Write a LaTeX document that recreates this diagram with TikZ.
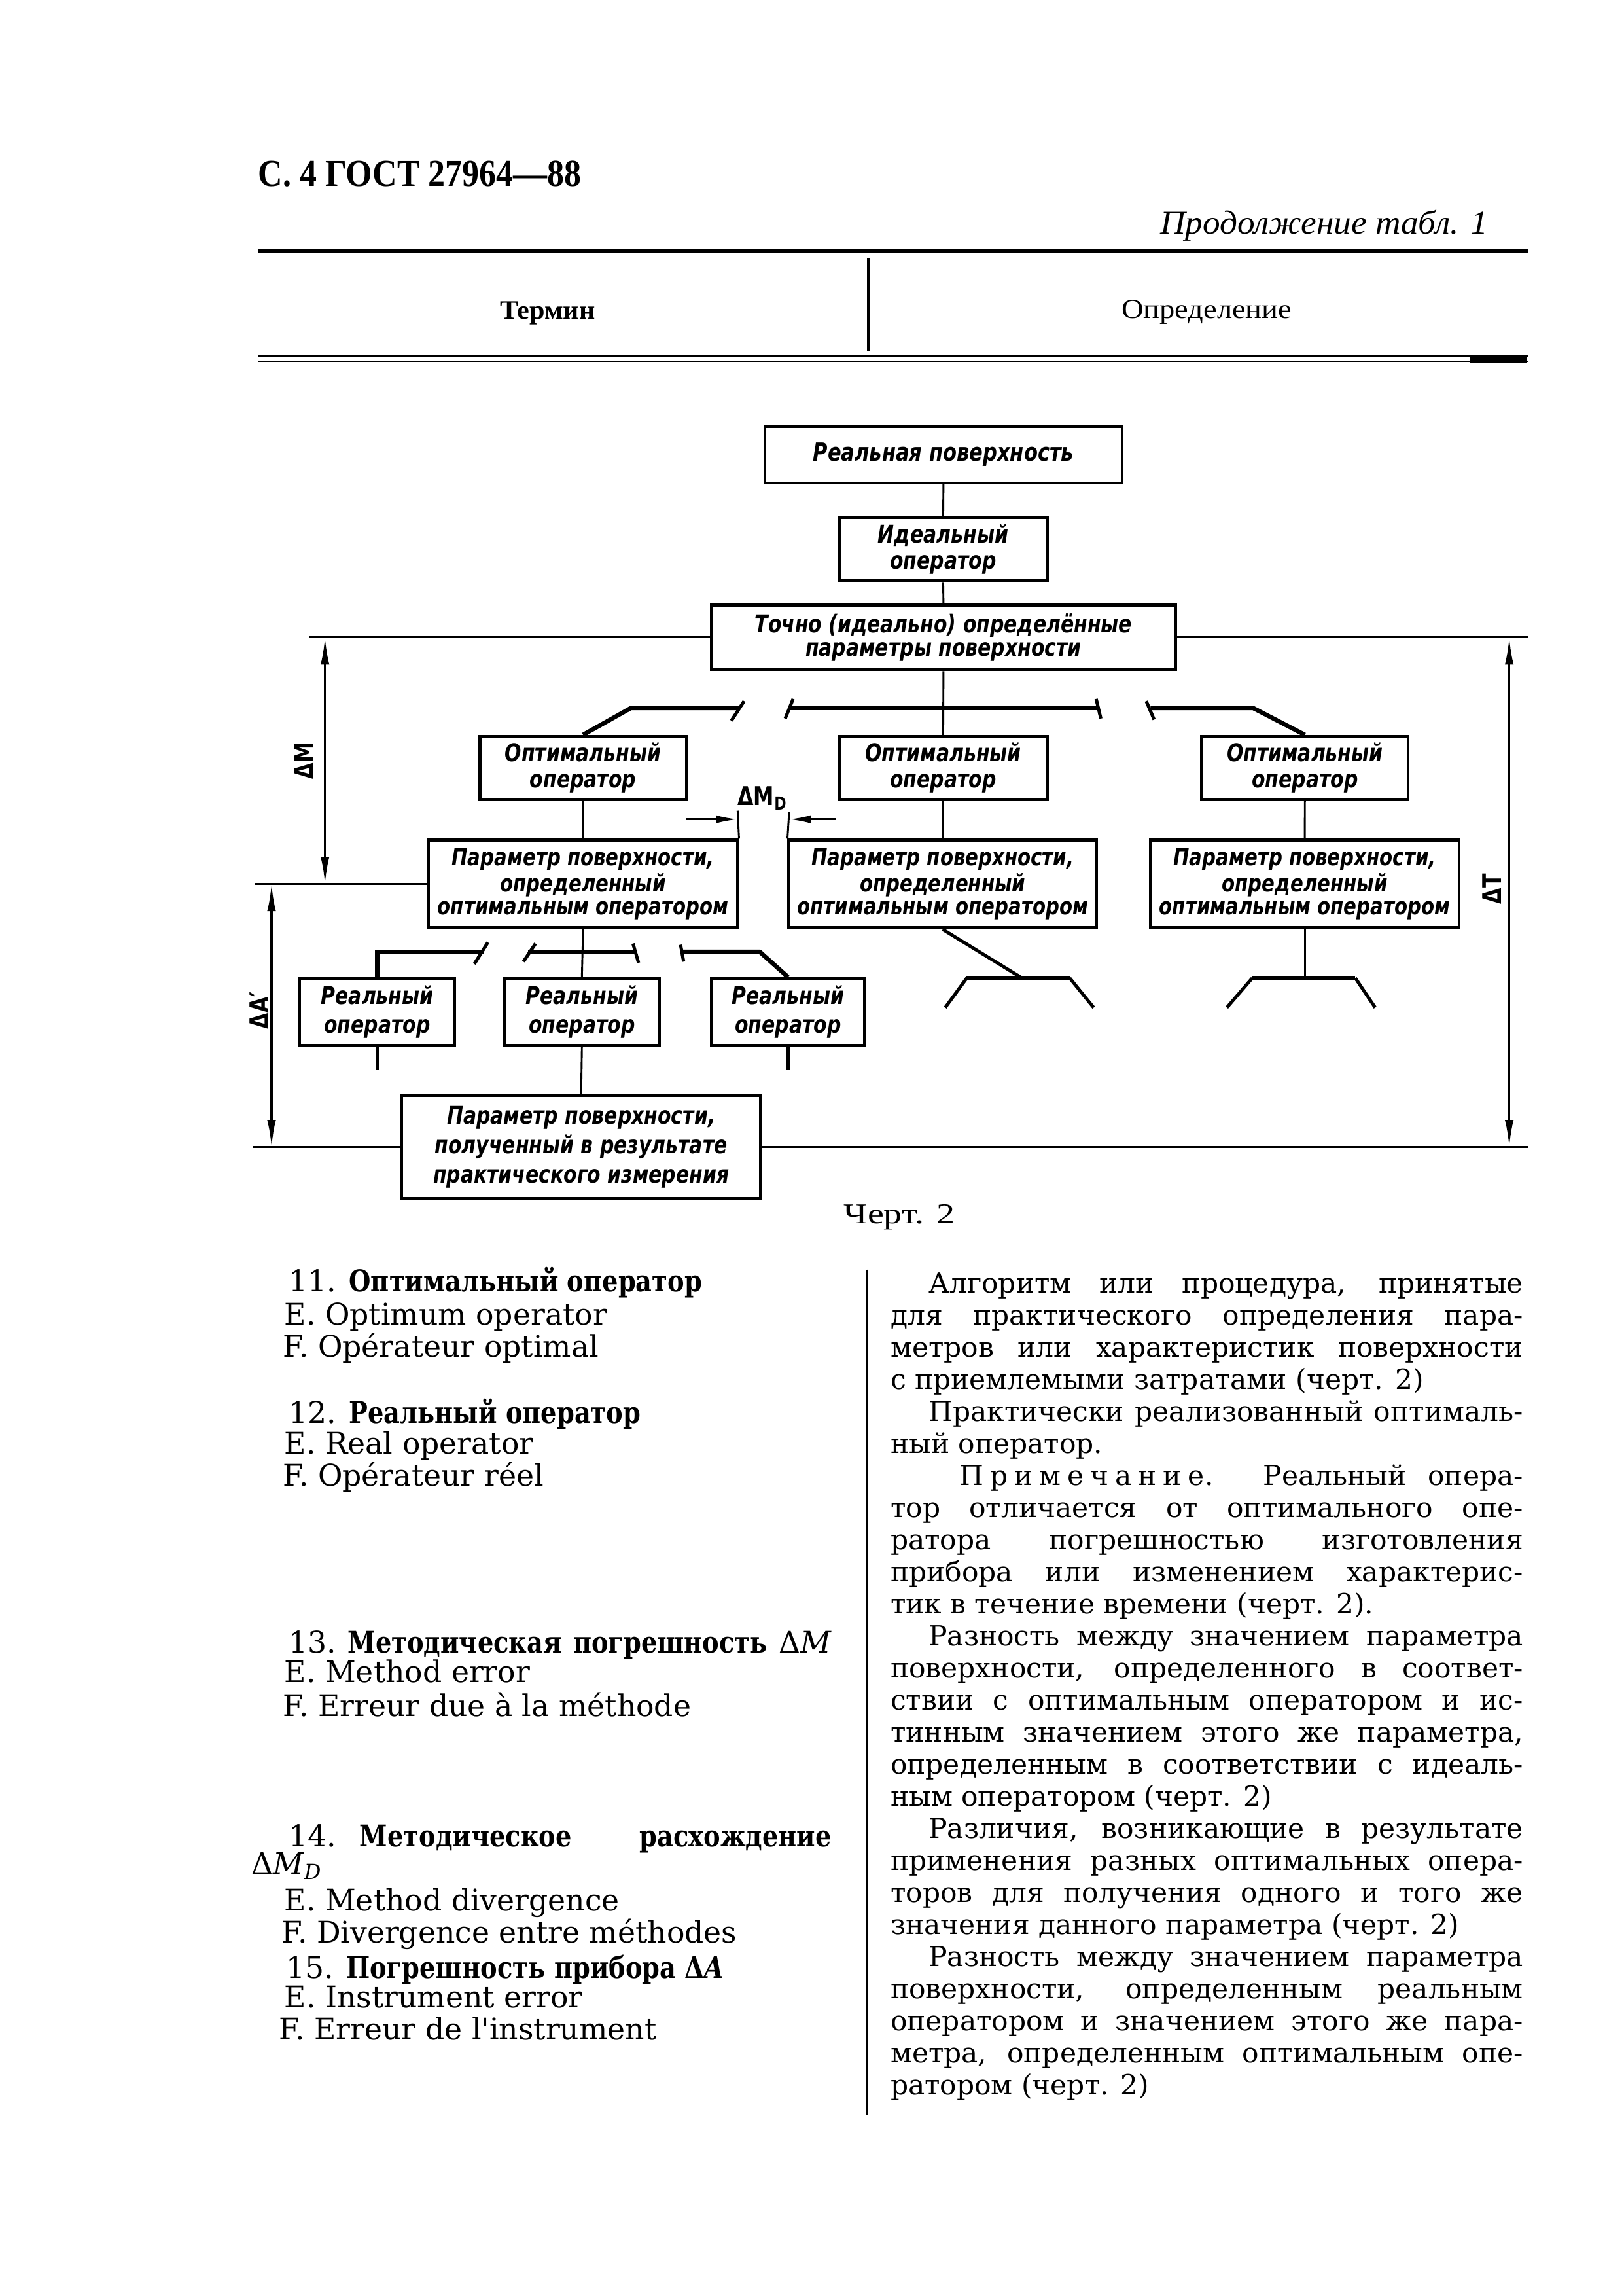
\documentclass[tikz,border=0pt]{standalone}
\usepackage{fontspec}
\usepackage{graphicx}
\usetikzlibrary{arrows.meta}
\setmainfont{Liberation Serif}
\newfontfamily\bodyf{DejaVu Serif}
\newfontfamily\termf[FakeStretch=0.84]{DejaVu Serif}
\newfontfamily\draftf[FakeStretch=0.8]{DejaVu Sans}
\newcommand\dft[2]{\draftf\bfseries\itshape\fontsize{#1}{#2}\selectfont}
\newcommand\rfont{\bodyf\fontsize{10.2}{12}\selectfont}
\newcommand\lfont{\bodyf\fontsize{11}{12}\selectfont}
\newcommand\tb[1]{{\termf\bfseries #1}}
\newcommand\lsp{\kern2.4pt}
\newcommand\rowI[3]{\node[txt,font=\rfont] (#1) at (634,#2) {\makebox[218.8pt][s]{#3}};}
\newcommand\rowJ[3]{\node[txt,font=\rfont] (#1) at (608,#2) {\makebox[232.8pt][s]{#3}};}
\newcommand\rowP[3]{\node[txt,font=\rfont] (#1) at (608,#2) {#3};}
\newcommand\rowN[3]{\node[txt,font=\rfont] (#1) at (655,#2) {\makebox[207.5pt][s]{#3}};}
\newcommand\lrow[4]{\node[txt,font=\lfont] (#1) at (#2,#3) {#4};}
\begin{document}
\begin{tikzpicture}[x=0.018936cm,y=-0.018936cm,
 dbox/.style={draw,line width=1.1pt,inner sep=0pt,align=center},
 conn/.style={line width=0.7pt},
 sw/.style={line width=1.6pt},
 tick/.style={line width=1.2pt},
 dim/.style={line width=0.8pt,<->,>={Latex[length=10pt,width=3.2pt]}},
 darr/.style={line width=0.8pt,->,>={Latex[length=8pt,width=3pt]}},
 lbl/.style={inner sep=0pt,font=\draftf\bfseries\fontsize{9.5}{9.5}\selectfont},
 txt/.style={anchor=base west,inner sep=0pt}]
\path[use as bounding box, fill=white] (0,0) rectangle (1109,1568);

% ---------- page header ----------
\node[anchor=base west,inner sep=0pt] (hdr) at (176,127.3) {\resizebox{119pt}{9.3pt}{\bfseries С. 4 ГОСТ 27964—88}};
\node[anchor=base east,inner sep=0pt] (cont) at (1017,160) {\resizebox{120.7pt}{8.8pt}{\itshape Продолжение табл. 1}};
\draw[line width=1.45pt] (176,171.8) -- (1044,171.8);
\draw[line width=0.8pt] (593.2,176.3) -- (593.2,240);
\node[anchor=base,inner sep=0pt] (term) at (374,217.8) {\resizebox{35pt}{6.4pt}{\bfseries Термин}};
\node[anchor=base,inner sep=0pt] (defn) at (824.3,217.6) {\resizebox{62.7pt}{6.7pt}{Определение}};
\draw[line width=0.65pt] (176,243) -- (1044,243);
\draw[line width=0.65pt] (176,246.7) -- (1044,246.7);
\fill (1004,242.2) rectangle (1043,247.6);

% ---------- diagram boxes ----------
\node[dbox,minimum width=131.5pt,minimum height=20.8pt,font=\dft{9.2}{9.5}] (B1) at (644.5,310.5) {Реальная поверхность};
\node[dbox,minimum width=76.5pt,minimum height=23.2pt,font=\dft{9}{9.6}] (B2) at (644.3,375) {Идеальный\\оператор};
\node[dbox,minimum width=170.8pt,minimum height=23.7pt,font=\dft{9}{8.8}] (B3) at (644.5,435.3) {Точно (идеально) определённые\\параметры поверхности};

\node[dbox,minimum width=76pt,minimum height=23.2pt,font=\dft{9}{9.5}] (OL) at (398.3,524.4) {Оптимальный\\оператор};
\node[dbox,minimum width=76.5pt,minimum height=23.2pt,font=\dft{9}{9.5}] (OM) at (644.3,524.4) {Оптимальный\\оператор};
\node[dbox,minimum width=76pt,minimum height=23.2pt,font=\dft{9}{9.5}] (OR) at (891.4,524.4) {Оптимальный\\оператор};

\node[dbox,minimum width=113.7pt,minimum height=32.3pt,font=\dft{8.8}{8.4}] (PL) at (398.3,603.7) {Параметр поверхности,\\определенный\\оптимальным оператором};
\node[dbox,minimum width=113.2pt,minimum height=32.3pt,font=\dft{8.8}{8.4}] (PM) at (644,603.7) {Параметр поверхности,\\определенный\\оптимальным оператором};
\node[dbox,minimum width=113.7pt,minimum height=32.3pt,font=\dft{8.8}{8.4}] (PR) at (891.3,603.7) {Параметр поверхности,\\определенный\\оптимальным оператором};

\node[dbox,minimum width=57.1pt,minimum height=24.5pt,font=\dft{9}{10.7}] (RL) at (257.7,691) {Реальный\\оператор};
\node[dbox,minimum width=56.9pt,minimum height=24.5pt,font=\dft{9}{10.7}] (RM) at (397.5,691) {Реальный\\оператор};
\node[dbox,minimum width=56.4pt,minimum height=24.5pt,font=\dft{9}{10.7}] (RR) at (538.3,691) {Реальный\\оператор};

\node[dbox,minimum width=132pt,minimum height=37.9pt,font=\dft{9}{10.8}] (F) at (397,783.4) {Параметр поверхности,\\полученный в результате\\практического измерения};

% ---------- straight connectors ----------
\draw[conn] (B1.south) -- (B2.north);
\draw[conn] (B2.south) -- (B3.north);
\draw[conn] (B3.south) -- (OM.north);
\draw[conn] (OL.south) -- (PL.north);
\draw[conn] (OM.south) -- (PM.north);
\draw[conn] (OR.south) -- (PR.north);
\draw[conn] (PL.south) -- (RM.north);
\draw[conn] (RM.south) -- (F.north);

% ---------- upper switch ----------
\coordinate (uL1) at (431,483.5);
\coordinate (uL2) at (505,483.5);
\draw[sw,line join=round] (OL.north) -- (uL1) -- (uL2);
\draw[tick] (508.3,478.8) -- (499.6,492.2);
\coordinate (uM1) at (539,483.5);
\coordinate (uM2) at (750,483.5);
\draw[sw] (uM1) -- (uM2);
\draw[tick] (541.8,477.3) -- (536.4,490.7);
\draw[tick] (748.8,477.3) -- (752,490.7);
\coordinate (uR1) at (786,483.5);
\coordinate (uR2) at (856,483.5);
\draw[sw,line join=round] (uR1) -- (uR2) -- (OR.north);
\draw[tick] (783,478.8) -- (788.4,491.4);

% ---------- lower switch ----------
\coordinate (lL2) at (330.5,650);
\draw[sw] (RL.north) |- (lL2);
\draw[tick] (333.3,643.6) -- (324,658.3);
\coordinate (lM1) at (360.5,650);
\coordinate (lM2) at (434.5,650);
\draw[sw] (lM1) -- (lM2);
\draw[tick] (365.8,644.4) -- (357.6,656.7);
\draw[tick] (432.4,644.4) -- (436.2,657.5);
\coordinate (lR1) at (466,650);
\coordinate (lR2) at (519,650);
\draw[sw,line join=round] (lR1) -- (lR2) -- (RR.north);
\draw[tick] (464.9,645.2) -- (467,656.7);

% stubs under real operators
\coordinate (sRL) at (257.7,731);
\coordinate (sRR) at (538.3,731);
\draw[tick] (RL.south) -- (sRL);
\draw[tick] (RR.south) -- (sRR);

% ---------- trapezoid ends ----------
\coordinate (tM) at (698.3,668);
\draw[tick] (PM.south) -- (tM);
\draw[sw] (660.4,668) -- (730.8,668);
\draw[tick] (660.4,668) -- (645.7,688.1);
\draw[tick] (730.8,668) -- (747.1,688.1);
\coordinate (tR) at (891.3,668);
\draw[conn] (PR.south) -- (tR);
\draw[sw] (855.4,668) -- (925.9,668);
\draw[tick] (855.4,668) -- (838.1,688.1);
\draw[tick] (925.9,668) -- (939.4,688.1);

% ---------- reference lines ----------
\coordinate (tlL) at (211,435.3);
\coordinate (tlR) at (1044,435.3);
\draw[conn] (B3.west) -- (tlL);
\draw[conn] (B3.east) -- (tlR);
\coordinate (mlL) at (174.3,603.7);
\draw[conn] (PL.west) -- (mlL);
\coordinate (blL) at (172.7,783.4);
\coordinate (blR) at (1044,783.4);
\draw[conn] (F.west) -- (blL);
\draw[conn] (F.east) -- (blR);

% ---------- dimensions ----------
\coordinate (dM1) at (222,435.3);
\coordinate (dM2) at (222,603.7);
\draw[dim] (dM1) -- (dM2);
\coordinate (dA1) at (185.5,603.7);
\coordinate (dA2) at (185.5,783.4);
\draw[dim] (dA1) -- (dA2);
\coordinate (dT1) at (1031,435.3);
\coordinate (dT2) at (1031,783.4);
\draw[dim] (dT1) -- (dT2);
\coordinate (eL) at (503.9,553.6);
\coordinate (eR) at (539.1,554.3);
\draw[conn] (PL.north east) -- (eL);
\draw[conn] (PM.north west) -- (eR);
\coordinate (aL0) at (469,559.5);
\coordinate (aL1) at (503.9,559.5);
\coordinate (aR0) at (570.7,559.5);
\coordinate (aR1) at (539.1,559.5);
\draw[darr] (aL0) -- (aL1);
\draw[darr] (aR0) -- (aR1);
\node[lbl,rotate=90] (lM) at (207.5,519.5) {ΔM};
\node[lbl,rotate=90] (lA) at (177,690) {ΔA′};
\node[lbl,rotate=90] (lT) at (1019,607) {ΔT};
\node[lbl] (lD) at (521,545) {ΔM\textsubscript{D}};

\node[anchor=base,inner sep=0pt] (chert) at (614.3,835.6) {\resizebox{40.8pt}{7pt}{Черт. 2}};

% ---------- left column ----------
\lrow{L1}{197}{882}{11. \tb{Оптимальный оператор}}
\lrow{L2}{194}{905}{E. Optimum operator}
\lrow{L3}{193}{927}{F. Opérateur optimal}
\lrow{L4}{197}{972}{12. \tb{Реальный оператор}}
\lrow{L5}{194}{993}{E. Real operator}
\lrow{L6}{193}{1015}{F. Opérateur réel}
\lrow{L7}{197}{1129}{\frenchspacing\makebox[199.7pt][s]{13. \tb{Методическая} \tb{погрешность} Δ\textit{M}}}
\lrow{L8}{194}{1149}{E. Method error}
\lrow{L9}{193}{1172}{F. Erreur due à la méthode}
\lrow{L10}{197}{1261}{\makebox[199.7pt][l]{14.\hspace{8.6pt}\tb{Методическое}\hfill\tb{расхождение}}}
\lrow{L11}{171.3}{1280}{Δ\textit{M}\textsubscript{\textit{D}}}
\lrow{L12}{194}{1305}{E. Method divergence}
\lrow{L13}{192}{1327}{F. Divergence entre méthodes}
\lrow{L14}{195}{1351}{15. \tb{Погрешность прибора Δ\textit{A}}}
\lrow{L15}{194}{1371}{E. Instrument error}
\lrow{L16}{190.4}{1393}{F. Erreur de l'instrument}

% ---------- right column ----------
\draw[line width=0.9pt] (592,867) -- (592,1444);
\rowI{R0}{883.0}{Алгоритм или процедура, принятые}
\rowJ{R1}{904.9}{для практического определения пара-}
\rowJ{R2}{926.8}{метров или характеристик поверхности}
\rowP{R3}{948.7}{с приемлемыми затратами (черт. 2)}
\rowI{R4}{970.6}{Практически реализованный оптималь-}
\rowP{R5}{992.5}{ный оператор.}
\rowN{R6}{1014.4}{П\lsp р\lsp и\lsp м\lsp е\lsp ч\lsp а\lsp н\lsp и\lsp е. Реальный опера-}
\rowJ{R7}{1036.3}{тор отличается от оптимального опе-}
\rowJ{R8}{1058.2}{ратора погрешностью изготовления}
\rowJ{R9}{1080.1}{прибора или изменением характерис-}
\rowP{R10}{1102.0}{тик в течение времени (черт. 2).}
\rowI{R11}{1123.9}{Разность между значением параметра}
\rowJ{R12}{1145.8}{поверхности, определенного в соответ-}
\rowJ{R13}{1167.7}{ствии с оптимальным оператором и ис-}
\rowJ{R14}{1189.6}{тинным значением этого же параметра,}
\rowJ{R15}{1211.5}{определенным в соответствии с идеаль-}
\rowP{R16}{1233.4}{ным оператором (черт. 2)}
\rowI{R17}{1255.3}{Различия, возникающие в результате}
\rowJ{R18}{1277.2}{применения разных оптимальных опера-}
\rowJ{R19}{1299.1}{торов для получения одного и того же}
\rowP{R20}{1321.0}{значения данного параметра (черт. 2)}
\rowI{R21}{1342.9}{Разность между значением параметра}
\rowJ{R22}{1364.8}{поверхности, определенным реальным}
\rowJ{R23}{1386.7}{оператором и значением этого же пара-}
\rowJ{R24}{1408.6}{метра, определенным оптимальным опе-}
\rowP{R25}{1430.5}{ратором (черт. 2)}
\end{tikzpicture}
\end{document}
